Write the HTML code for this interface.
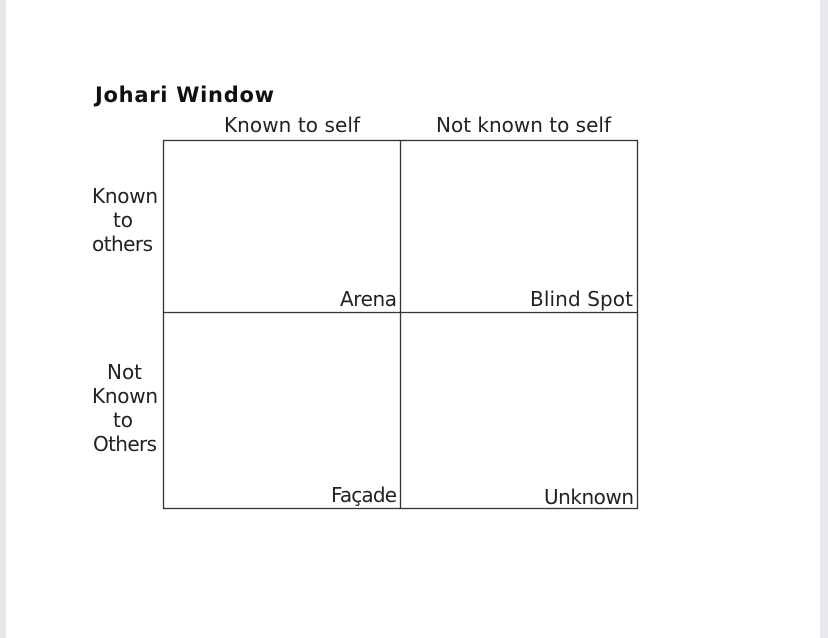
<!DOCTYPE html>
<html><head><meta charset="utf-8"><style>
html,body{margin:0;padding:0;background:#fff;}
body{width:828px;height:638px;overflow:hidden;position:relative;}
.l{position:absolute;left:0;top:0;width:6px;height:638px;background:#e8e8ec;}
.r{position:absolute;right:0;top:0;width:8px;height:638px;background:#e8e8ec;}
svg text{font-family:"DejaVu Sans","Liberation Sans",sans-serif;font-size:20px;fill:#222;}
</style></head><body>
<div class="l"></div><div class="r"></div>
<svg width="828" height="638" style="position:absolute;left:0;top:0">
<text x="95" y="102" textLength="179" style="font-weight:bold;font-size:21px;fill:#111">Johari Window</text>
<text x="224" y="132" textLength="136">Known to self</text>
<text x="436" y="132" textLength="175">Not known to self</text>
<g fill="none" stroke="#333" stroke-width="1.3">
<rect x="163.5" y="140.5" width="474" height="368"/>
<line x1="400.5" y1="140" x2="400.5" y2="509"/>
<line x1="163" y1="312.5" x2="638" y2="312.5"/>
</g>
<text x="92" y="203" textLength="66">Known</text>
<text x="113" y="227" textLength="20">to</text>
<text x="92" y="251" textLength="61">others</text>
<text x="107" y="379" textLength="35">Not</text>
<text x="92" y="403" textLength="66">Known</text>
<text x="113" y="427" textLength="20">to</text>
<text x="93" y="451" textLength="64">Others</text>
<text x="340" y="306" textLength="57">Arena</text>
<text x="530" y="306" textLength="103">Blind Spot</text>
<text x="331" y="502" textLength="66">Façade</text>
<text x="544" y="504" textLength="90">Unknown</text>
</svg>
</body></html>
